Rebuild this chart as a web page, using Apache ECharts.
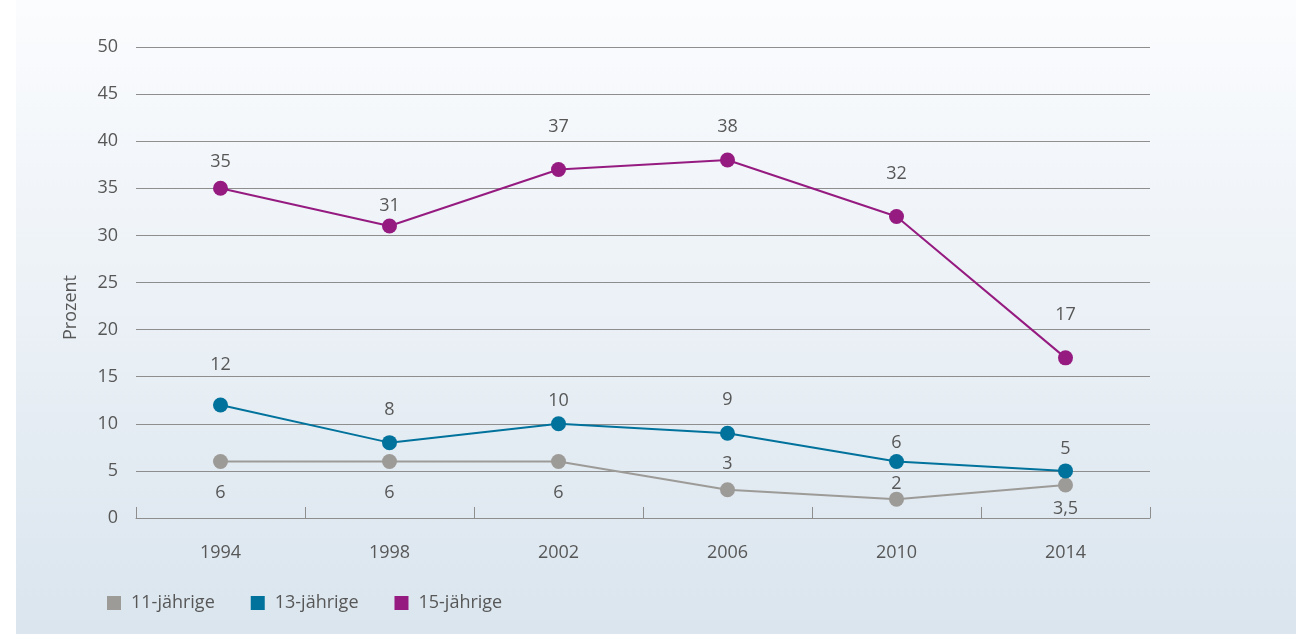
<!DOCTYPE html>
<html>
<head>
<meta charset="utf-8">
<script src="https://cdn.jsdelivr.net/npm/echarts@6/dist/echarts.min.js"></script>
<style>
  html, body { margin: 0; padding: 0; background: #ffffff; }
  #chart { width: 1296px; height: 634px; }
</style>
</head>
<body>
<div id="chart"></div>
<script>
// Survey years (x axis)
const years = ['1994', '1998', '2002', '2006', '2010', '2014'];

// Share in percent per age group
const seriesNames = ['11-jährige', '13-jährige', '15-jährige'];
const age11 = [6, 6, 6, 3, 2, 3.5];
const age13 = [12, 8, 10, 9, 6, 5];
const age15 = [35, 31, 37, 38, 32, 17];

// Vertical offset (px) of each value label from its marker centre; negative = above
const age11LabelDy = [31, 31, 31, -26, -15, 24];
const age13LabelDy = [-40, -33, -23, -33, -19, -22];
const age15LabelDy = [-26, -20, -43, -33, -43, -43];

const colors = ['#9d9b98', '#00729c', '#951b81'];
const textColor = '#575757';
const gridColor = '#8e8e8e';
const fontFamily = '"Open Sans", sans-serif';

const fmt = v => String(v).replace('.', ',');

function makeSeries(name, values, dys, color) {
  return {
    name: name,
    type: 'line',
    data: values.map((v, i) => ({
      value: v,
      label: { offset: [0, dys[i]] }
    })),
    symbol: 'circle',
    symbolSize: 15,
    lineStyle: { color: color, width: 2 },
    itemStyle: { color: color },
    label: {
      show: true,
      position: 'inside',
      color: textColor,
      fontSize: 18,
      fontFamily: fontFamily,
      formatter: p => fmt(p.value)
    },
    emphasis: { disabled: true },
    animation: false
  };
}

const chart = echarts.init(document.getElementById('chart'), null, { renderer: 'canvas' });

chart.setOption({
  backgroundColor: '#ffffff',
  graphic: [{
    type: 'rect',
    z: -10,
    silent: true,
    shape: { x: 16, y: 0, width: 1280, height: 634 },
    style: {
      fill: new echarts.graphic.LinearGradient(0, 0, 0, 1, [
        { offset: 0, color: '#fbfcfe' },
        { offset: 1, color: '#dae5ee' }
      ])
    }
  }],
  color: colors,
  textStyle: { fontFamily: fontFamily },
  grid: { left: 136, right: 146, top: 47, bottom: 116 },
  legend: {
    left: 107,
    top: 594,
    padding: 0,
    itemWidth: 14,
    itemHeight: 14,
    itemGap: 36,
    icon: 'rect',
    textStyle: { color: textColor, fontSize: 18, fontFamily: fontFamily, padding: [0, 0, 0, 5] },
    data: seriesNames.map((n, i) => ({ name: n, itemStyle: { color: colors[i] } }))
  },
  xAxis: {
    type: 'category',
    data: years,
    boundaryGap: true,
    axisLine: { lineStyle: { color: gridColor, width: 1 } },
    axisTick: { show: true, inside: true, length: 11, interval: 0, lineStyle: { color: gridColor } },
    axisLabel: { color: textColor, fontSize: 18, margin: 26, fontFamily: fontFamily }
  },
  yAxis: {
    type: 'value',
    min: 0,
    max: 50,
    interval: 5,
    name: 'Prozent',
    nameLocation: 'middle',
    nameGap: 56,
    nameRotate: 90,
    nameTextStyle: { color: textColor, fontSize: 18, fontFamily: fontFamily, padding: [0, 50, 0, 0] },
    axisLine: { show: false },
    axisTick: { show: false },
    axisLabel: { color: textColor, fontSize: 18, margin: 18, fontFamily: fontFamily, padding: [2, 0, 0, 0] },
    splitLine: { lineStyle: { color: gridColor, width: 1 } }
  },
  series: [
    makeSeries(seriesNames[0], age11, age11LabelDy, colors[0]),
    makeSeries(seriesNames[1], age13, age13LabelDy, colors[1]),
    makeSeries(seriesNames[2], age15, age15LabelDy, colors[2])
  ]
});
</script>
</body>
</html>
